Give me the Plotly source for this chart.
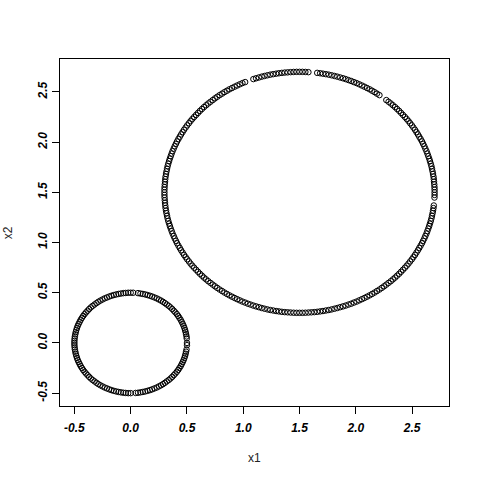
import plotly.graph_objects as go

# Small ring (centre 0,0)
small_x = [0.500, 0.498, 0.496, 0.492, 0.488, 0.483, 0.477, 0.470, 0.462, 0.453, 0.444, 0.433, 0.422, 0.410, 0.397, 0.383, 0.369, 0.354, 0.338, 0.321, 0.304, 0.287, 0.269, 0.250, 0.231, 0.211, 0.191, 0.171, 0.150, 0.129, 0.108, 0.087, 0.065, 0.022,
           -0.000, -0.022, -0.044, -0.065, -0.087, -0.108, -0.129, -0.150, -0.171, -0.191, -0.211, -0.231, -0.250, -0.269, -0.287, -0.304, -0.321, -0.338, -0.354, -0.369, -0.383, -0.397, -0.410, -0.422, -0.433, -0.444, -0.453, -0.462, -0.470, -0.477, -0.483, -0.488, -0.492, -0.496, -0.498, -0.500,
           -0.500, -0.500, -0.498, -0.496, -0.492, -0.488, -0.483, -0.477, -0.470, -0.462, -0.453, -0.444, -0.433, -0.422, -0.410, -0.397, -0.383, -0.369, -0.354, -0.338, -0.321, -0.304, -0.287, -0.269, -0.250, -0.231, -0.211, -0.191, -0.171, -0.150, -0.129, -0.108, -0.087, -0.065, -0.044, -0.022,
           0.000, 0.044, 0.065, 0.087, 0.108, 0.129, 0.150, 0.171, 0.191, 0.211, 0.231, 0.250, 0.269, 0.287, 0.304, 0.321, 0.338, 0.354, 0.369, 0.383, 0.397, 0.410, 0.422, 0.433, 0.444, 0.453, 0.462, 0.470, 0.477, 0.483, 0.488, 0.492, 0.496, 0.500]
small_y = [0.000, 0.044, 0.065, 0.087, 0.108, 0.129, 0.150, 0.171, 0.191, 0.211, 0.231, 0.250, 0.269, 0.287, 0.304, 0.321, 0.338, 0.354, 0.369, 0.383, 0.397, 0.410, 0.422, 0.433, 0.444, 0.453, 0.462, 0.470, 0.477, 0.483, 0.488, 0.492, 0.496, 0.500,
           0.500, 0.500, 0.498, 0.496, 0.492, 0.488, 0.483, 0.477, 0.470, 0.462, 0.453, 0.444, 0.433, 0.422, 0.410, 0.397, 0.383, 0.369, 0.354, 0.338, 0.321, 0.304, 0.287, 0.269, 0.250, 0.231, 0.211, 0.191, 0.171, 0.150, 0.129, 0.108, 0.087, 0.065, 0.044, 0.022,
           0.000, -0.022, -0.044, -0.065, -0.087, -0.108, -0.129, -0.150, -0.171, -0.191, -0.211, -0.231, -0.250, -0.269, -0.287, -0.304, -0.321, -0.338, -0.354, -0.369, -0.383, -0.397, -0.410, -0.422, -0.433, -0.444, -0.453, -0.462, -0.470, -0.477, -0.483, -0.488, -0.492, -0.496, -0.498, -0.500,
           -0.500, -0.498, -0.496, -0.492, -0.488, -0.483, -0.477, -0.470, -0.462, -0.453, -0.444, -0.433, -0.422, -0.410, -0.397, -0.383, -0.369, -0.354, -0.338, -0.321, -0.304, -0.287, -0.269, -0.250, -0.231, -0.211, -0.191, -0.171, -0.150, -0.129, -0.108, -0.087, -0.065, -0.022]

# Large ring (centre 1.5,1.5)
large_x = [2.700, 2.699, 2.695, 2.690, 2.682, 2.672, 2.659, 2.644, 2.628, 2.609, 2.588, 2.564, 2.539, 2.512, 2.483, 2.452, 2.419, 2.385, 2.349, 2.311, 2.271, 2.188, 2.145, 2.100, 2.054, 2.007, 1.959, 1.910, 1.861, 1.811, 1.760, 1.708, 1.657, 1.552,
           1.500, 1.448, 1.395, 1.343, 1.292, 1.240, 1.189, 1.139, 1.090, 0.993, 0.946, 0.900, 0.855, 0.812, 0.769, 0.729, 0.689, 0.651, 0.615, 0.581, 0.548, 0.517, 0.488, 0.461, 0.436, 0.412, 0.391, 0.372, 0.356, 0.341, 0.328, 0.318, 0.310, 0.305, 0.301,
           0.300, 0.301, 0.305, 0.310, 0.318, 0.328, 0.341, 0.356, 0.372, 0.391, 0.412, 0.436, 0.461, 0.488, 0.517, 0.548, 0.581, 0.615, 0.651, 0.689, 0.729, 0.769, 0.812, 0.855, 0.900, 0.946, 0.993, 1.041, 1.090, 1.139, 1.189, 1.240, 1.292, 1.343, 1.395, 1.448,
           1.500, 1.552, 1.605, 1.657, 1.708, 1.760, 1.811, 1.861, 1.910, 1.959, 2.007, 2.054, 2.100, 2.145, 2.188, 2.231, 2.271, 2.311, 2.349, 2.385, 2.419, 2.452, 2.483, 2.512, 2.539, 2.564, 2.588, 2.609, 2.628, 2.644, 2.659, 2.672, 2.682, 2.690, 2.699]
large_y = [1.500, 1.552, 1.605, 1.657, 1.708, 1.760, 1.811, 1.861, 1.910, 1.959, 2.007, 2.054, 2.100, 2.145, 2.188, 2.231, 2.271, 2.311, 2.349, 2.385, 2.419, 2.483, 2.512, 2.539, 2.564, 2.588, 2.609, 2.628, 2.644, 2.659, 2.672, 2.682, 2.690, 2.699,
           2.700, 2.699, 2.695, 2.690, 2.682, 2.672, 2.659, 2.644, 2.628, 2.588, 2.564, 2.539, 2.512, 2.483, 2.452, 2.419, 2.385, 2.349, 2.311, 2.271, 2.231, 2.188, 2.145, 2.100, 2.054, 2.007, 1.959, 1.910, 1.861, 1.811, 1.760, 1.708, 1.657, 1.605, 1.552,
           1.500, 1.448, 1.395, 1.343, 1.292, 1.240, 1.189, 1.139, 1.090, 1.041, 0.993, 0.946, 0.900, 0.855, 0.812, 0.769, 0.729, 0.689, 0.651, 0.615, 0.581, 0.548, 0.517, 0.488, 0.461, 0.436, 0.412, 0.391, 0.372, 0.356, 0.341, 0.328, 0.318, 0.310, 0.305, 0.301,
           0.300, 0.301, 0.305, 0.310, 0.318, 0.328, 0.341, 0.356, 0.372, 0.391, 0.412, 0.436, 0.461, 0.488, 0.517, 0.548, 0.581, 0.615, 0.651, 0.689, 0.729, 0.769, 0.812, 0.855, 0.900, 0.946, 0.993, 1.041, 1.090, 1.139, 1.189, 1.240, 1.292, 1.343, 1.448]

# Further large-ring points (denser arcs)
large_x2 = [2.700, 2.697, 2.693, 2.686, 2.677, 2.666, 2.652, 2.636, 2.618, 2.598, 2.576, 2.552, 2.526, 2.498, 2.468, 2.436, 2.402, 2.367, 2.330, 2.291, 2.210, 2.167, 2.123, 2.077, 2.031, 1.983, 1.935, 1.886, 1.836, 1.785, 1.734, 1.683, 1.579, 1.526,
            1.474, 1.421, 1.369, 1.317, 1.266, 1.215, 1.164, 1.114, 1.017, 0.969, 0.923, 0.877, 0.833, 0.790, 0.749, 0.709, 0.670, 0.633, 0.598, 0.564, 0.532, 0.502, 0.474, 0.448, 0.424, 0.402, 0.382, 0.364, 0.348, 0.334, 0.323, 0.314, 0.307, 0.303, 0.300,
            0.300, 0.303, 0.307, 0.314, 0.323, 0.334, 0.348, 0.364, 0.382, 0.402, 0.424, 0.448, 0.474, 0.502, 0.532, 0.564, 0.598, 0.633, 0.670, 0.709, 0.749, 0.790, 0.833, 0.877, 0.923, 0.969, 1.017, 1.065, 1.114, 1.164, 1.215, 1.266, 1.317, 1.369, 1.421, 1.474,
            1.526, 1.579, 1.631, 1.683, 1.734, 1.785, 1.836, 1.886, 1.935, 1.983, 2.031, 2.077, 2.123, 2.167, 2.210, 2.251, 2.291, 2.330, 2.367, 2.402, 2.436, 2.468, 2.498, 2.526, 2.552, 2.576, 2.598, 2.618, 2.636, 2.652, 2.666, 2.677, 2.686, 2.693, 2.700]
large_y2 = [1.526, 1.579, 1.631, 1.683, 1.734, 1.785, 1.836, 1.886, 1.935, 1.983, 2.031, 2.077, 2.123, 2.167, 2.210, 2.251, 2.291, 2.330, 2.367, 2.402, 2.468, 2.498, 2.526, 2.552, 2.576, 2.598, 2.618, 2.636, 2.652, 2.666, 2.677, 2.686, 2.697, 2.700,
            2.700, 2.697, 2.693, 2.686, 2.677, 2.666, 2.652, 2.636, 2.598, 2.576, 2.552, 2.526, 2.498, 2.468, 2.436, 2.402, 2.367, 2.330, 2.291, 2.251, 2.210, 2.167, 2.123, 2.077, 2.031, 1.983, 1.935, 1.886, 1.836, 1.785, 1.734, 1.683, 1.631, 1.579, 1.526,
            1.474, 1.421, 1.369, 1.317, 1.266, 1.215, 1.164, 1.114, 1.065, 1.017, 0.969, 0.923, 0.877, 0.833, 0.790, 0.749, 0.709, 0.670, 0.633, 0.598, 0.564, 0.532, 0.502, 0.474, 0.448, 0.424, 0.402, 0.382, 0.364, 0.348, 0.334, 0.323, 0.314, 0.307, 0.303, 0.300,
            0.300, 0.303, 0.307, 0.314, 0.323, 0.334, 0.348, 0.364, 0.382, 0.402, 0.424, 0.448, 0.474, 0.502, 0.532, 0.564, 0.598, 0.633, 0.670, 0.709, 0.749, 0.790, 0.833, 0.877, 0.923, 0.969, 1.017, 1.065, 1.114, 1.164, 1.215, 1.266, 1.317, 1.369, 1.474]

tick_vals = [-0.5, 0.0, 0.5, 1.0, 1.5, 2.0, 2.5]
tick_text = ["-0.5", "0.0", "0.5", "1.0", "1.5", "2.0", "2.5"]
x_title = "x1"
y_title = "x2"

marker = dict(symbol="circle-open", size=5.5, color="black", line=dict(width=1, color="black"))

fig = go.Figure()
fig.add_trace(go.Scatter(x=small_x, y=small_y, mode="markers", marker=marker, showlegend=False))
fig.add_trace(go.Scatter(x=large_x + large_x2, y=large_y + large_y2, mode="markers", marker=marker, showlegend=False))

tickfont = dict(family="Liberation Sans, Arial, sans-serif", size=12, color="black", weight="bold", style="italic")
axis_common = dict(
    tickvals=tick_vals, ticktext=tick_text, range=[-0.628, 2.828],
    showgrid=False, zeroline=False, showline=True, mirror=True,
    linecolor="black", linewidth=1, ticks="outside", ticklen=7,
    tickwidth=1, tickcolor="black", tickfont=tickfont, automargin=False,
)
fig.update_xaxes(**axis_common, ticklabelstandoff=4)
fig.update_yaxes(**axis_common, tickangle=-90)

fig.update_layout(
    width=480, height=480,
    margin=dict(l=60, r=31, t=59, b=74, autoexpand=False),
    plot_bgcolor="white", paper_bgcolor="white",
    font=dict(family="Liberation Sans, Arial, sans-serif", size=12, color="black"),
    annotations=[
        dict(text=x_title, x=0.499, y=-0.15, xref="paper", yref="paper",
             xanchor="center", yanchor="middle", showarrow=False,
             font=dict(size=12, color="#222")),
        dict(text=y_title, x=-0.134, y=0.5, xref="paper", yref="paper",
             xanchor="center", yanchor="middle", showarrow=False, textangle=-90,
             font=dict(size=12, color="#222")),
    ],
)

fig.write_html("out.html", config={"displayModeBar": False},
               post_script="document.body.style.margin='0';")
